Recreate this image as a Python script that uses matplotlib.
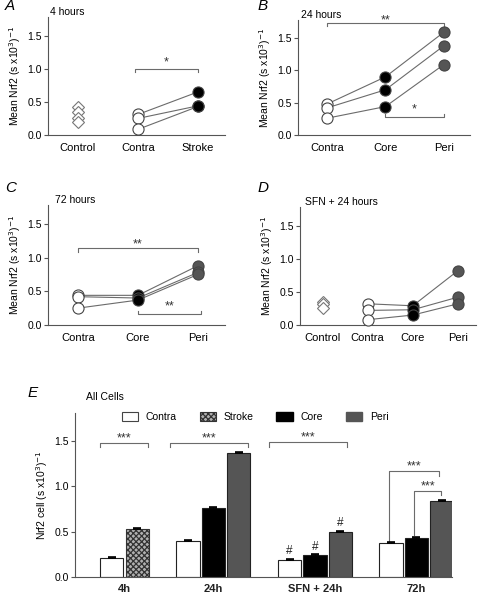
import numpy as np
import matplotlib
matplotlib.use('Agg')
import matplotlib.pyplot as plt
from matplotlib.patches import Patch

plt.rcParams['font.family'] = ['Liberation Sans', 'DejaVu Sans']
plt.rcParams['hatch.linewidth'] = 0.9

W, H = 480, 594
YLABEL = 'Mean Nrf2 (s x10$^3$)$^{-1}$'
LINE_C = '#6b6b6b'
PERI_C = '#555555'

# panel A: 4 hours
a_cats = ['Control', 'Contra', 'Stroke']
a_control = [0.42, 0.34, 0.26, 0.19]
a_contra = [0.31, 0.25, 0.085]
a_stroke = [0.65, 0.44, 0.43]

# panel B: 24 hours
b_cats = ['Contra', 'Core', 'Peri']
b_contra = [0.48, 0.42, 0.26]
b_core = [0.90, 0.70, 0.44]
b_peri = [1.59, 1.38, 1.09]

# panel C: 72 hours
c_cats = ['Contra', 'Core', 'Peri']
c_contra = [0.44, 0.42, 0.25]
c_core = [0.44, 0.40, 0.37]
c_peri = [0.88, 0.78, 0.75]

# panel D: SFN + 24 hours
d_cats = ['Control', 'Contra', 'Core', 'Peri']
d_control = [0.35, 0.32, 0.25]
d_contra = [0.32, 0.22, 0.08]
d_core = [0.29, 0.23, 0.15]
d_peri = [0.82, 0.42, 0.32]

# panel E: all cells
e_groups = ['4h', '24h', 'SFN + 24h', '72h']
e_contra = [0.21, 0.40, 0.19, 0.37]
e_stroke = 0.53
e_core = [0.76, 0.24, 0.43]
e_peri = [1.37, 0.50, 0.84]
e_err = 0.012

fig = plt.figure(figsize=(W / 100, H / 100), dpi=100)


def ax_at(l, r, t, b):
    return fig.add_axes([l / W, 1 - b / H, (r - l) / W, (b - t) / H])


def style(ax, ymax=1.78):
    for s in ['top', 'right']:
        ax.spines[s].set_visible(False)
    for s in ['left', 'bottom']:
        ax.spines[s].set_color('#555555')
        ax.spines[s].set_linewidth(0.8)
    ax.set_ylim(0, ymax)
    ax.set_yticks([0, 0.5, 1.0, 1.5])
    ax.set_yticklabels(['0.0', '0.5', '1.0', '1.5'])
    ax.tick_params(axis='y', labelsize=7.5, length=3, width=0.8, color='#555555', pad=1.5)
    ax.tick_params(axis='x', labelsize=8, length=0, pad=6)


def bracket(ax, x0, x1, y, tip, text, ty=None, fs=9):
    ax.plot([x0, x0, x1, x1], [y + tip, y, y, y + tip], color=LINE_C, lw=0.8, clip_on=False)
    if ty is None:
        ty = y + 0.01
    ax.text((x0 + x1) / 2, ty, text, ha='center', va='bottom', fontsize=fs, color='#333333')


def paired(ax, xs, cols, fcs):
    for i in range(len(cols[0])):
        ax.plot(xs, [c[i] for c in cols], color=LINE_C, lw=0.8, zorder=1)
    for x, c, fc in zip(xs, cols, fcs):
        ax.plot([x] * len(c), c, 'o', ms=8, mfc=fc, mec='#444444', mew=0.8, zorder=3, clip_on=False)


def diamonds(ax, x, vals):
    ax.plot([x] * len(vals), vals, 'D', ms=6, mfc='white', mec='#777777', mew=0.8, zorder=3)


# ---- A
ax = ax_at(48, 225, 17, 135)
style(ax)
diamonds(ax, 0, a_control)
paired(ax, [1, 2], [a_contra, a_stroke], ['white', 'black'])
bracket(ax, 0.95, 2.0, 1.0, -0.05, '*')
ax.set_xlim(-0.5, 2.45)
ax.set_xticks(range(3))
ax.set_xticklabels(a_cats)
ax.set_ylabel(YLABEL, fontsize=7.5, labelpad=3)
fig.text(5 / W, 1 - 6 / H, 'A', fontsize=11, style='italic', va='center')
ax.text(0.01, 1.0, '4 hours', transform=ax.transAxes, fontsize=7.5, va='bottom')

# ---- B
ax = ax_at(298, 470, 20, 135)
style(ax)
paired(ax, [0, 1, 2], [b_contra, b_core, b_peri], ['white', 'black', PERI_C])
bracket(ax, 0, 2, 1.74, -0.05, '**', ty=1.68)
bracket(ax, 1, 2, 0.28, 0.05, '*', ty=0.30)
ax.set_xlim(-0.5, 2.45)
ax.set_xticks(range(3))
ax.set_xticklabels(b_cats)
ax.set_ylabel(YLABEL, fontsize=7.5, labelpad=3)
fig.text(258 / W, 1 - 6 / H, 'B', fontsize=11, style='italic', va='center')
ax.text(0.02, 1.0, '24 hours', transform=ax.transAxes, fontsize=7.5, va='bottom')

# ---- C
ax = ax_at(48, 225, 205, 325)
style(ax)
paired(ax, [0, 1, 2], [c_contra, c_core, c_peri], ['white', 'black', PERI_C])
bracket(ax, 0, 2, 1.14, -0.05, '**', ty=1.11)
bracket(ax, 1, 2.05, 0.16, 0.05, '**', ty=0.18)
ax.set_xlim(-0.5, 2.45)
ax.set_xticks(range(3))
ax.set_xticklabels(c_cats)
ax.set_ylabel(YLABEL, fontsize=7.5, labelpad=3)
fig.text(5 / W, 1 - 188 / H, 'C', fontsize=11, style='italic', va='center')
ax.text(0.04, 1.0, '72 hours', transform=ax.transAxes, fontsize=7.5, va='bottom')

# ---- D
ax = ax_at(300, 476, 207, 325)
style(ax)
diamonds(ax, 0, d_control)
paired(ax, [1, 2, 3], [d_contra, d_core, d_peri], ['white', 'black', PERI_C])
ax.set_xlim(-0.5, 3.4)
ax.set_xticks(range(4))
ax.set_xticklabels(d_cats)
ax.set_ylabel(YLABEL, fontsize=7.5, labelpad=3)
fig.text(258 / W, 1 - 188 / H, 'D', fontsize=11, style='italic', va='center')
ax.text(0.03, 1.0, 'SFN + 24 hours', transform=ax.transAxes, fontsize=7.5, va='bottom')

# ---- E
ax = ax_at(75, 452, 413, 577)
style(ax, ymax=1.81)
bw = 0.92
kw = dict(width=bw, edgecolor='#222222', linewidth=0.8, zorder=2)
ekw = dict(ecolor='black', elinewidth=0.8, capsize=3, capthick=1.2)
contra_x = [0, 3, 7, 11]
core_x = [4, 8, 12]
peri_x = [5, 9, 13]
ax.bar(contra_x, e_contra, color='white', yerr=[[0] * 4, [e_err] * 4], error_kw=ekw, **kw)
ax.bar([1], [e_stroke], color='#b0b0b0', hatch='xxxxxx', yerr=[[0], [e_err]], error_kw=ekw,
       **{**kw, 'edgecolor': '#333333'})
ax.bar(core_x, e_core, color='black', yerr=[[0] * 3, [e_err] * 3], error_kw=ekw, **kw)
ax.bar(peri_x, e_peri, color=PERI_C, yerr=[[0] * 3, [e_err] * 3], error_kw=ekw, **kw)
ax.set_xlim(-1.45, 13.4)
ax.set_xticks([0.5, 4, 8, 12])
ax.set_xticklabels(e_groups, fontsize=8, fontweight='bold', color='#222222')
ax.tick_params(axis='x', length=0, pad=5)
ax.set_ylabel('Nrf2 cell (s x10$^3$)$^{-1}$', fontsize=7.5, labelpad=3)

bracket(ax, -0.47, 1.41, 1.48, -0.05, '***', ty=1.46)
bracket(ax, 2.3, 5.37, 1.48, -0.05, '***', ty=1.46)
bracket(ax, 6.2, 9.25, 1.49, -0.05, '***', ty=1.47)
# 72h brackets
ax.plot([10.9, 10.9, 12.9, 12.9], [0.40, 1.17, 1.17, 1.12], color=LINE_C, lw=0.8)
ax.text(11.9, 1.15, '***', ha='center', va='bottom', fontsize=9, color='#333333')
ax.plot([11.9, 11.9, 12.95, 12.95], [0.46, 0.95, 0.95, 0.90], color=LINE_C, lw=0.8)
ax.text(12.45, 0.93, '***', ha='center', va='bottom', fontsize=9, color='#333333')
for x, v in zip([7, 8, 9], [e_contra[2], e_core[1], e_peri[1]]):
    ax.text(x, v + 0.03, '#', ha='center', va='bottom', fontsize=8.5, color='#222222')

handles = [Patch(facecolor='white', edgecolor='#444444', lw=0.8),
           Patch(facecolor='#b0b0b0', edgecolor='#333333', hatch='xxxxxx', lw=0.8),
           Patch(facecolor='black', edgecolor='black'),
           Patch(facecolor=PERI_C, edgecolor=PERI_C)]
fig.legend(handles, ['Contra', 'Stroke', 'Core', 'Peri'], ncol=4, frameon=False,
           loc='center', bbox_to_anchor=(255 / W, 1 - 417 / H), fontsize=7.5,
           handlelength=1.6, handleheight=0.9, columnspacing=2.2, handletextpad=0.7)
fig.text(28 / W, 1 - 393 / H, 'E', fontsize=11, style='italic', va='center')
fig.text(86 / W, 1 - 397 / H, 'All Cells', fontsize=7.5, va='center')

fig.savefig('out.png', dpi=100)
